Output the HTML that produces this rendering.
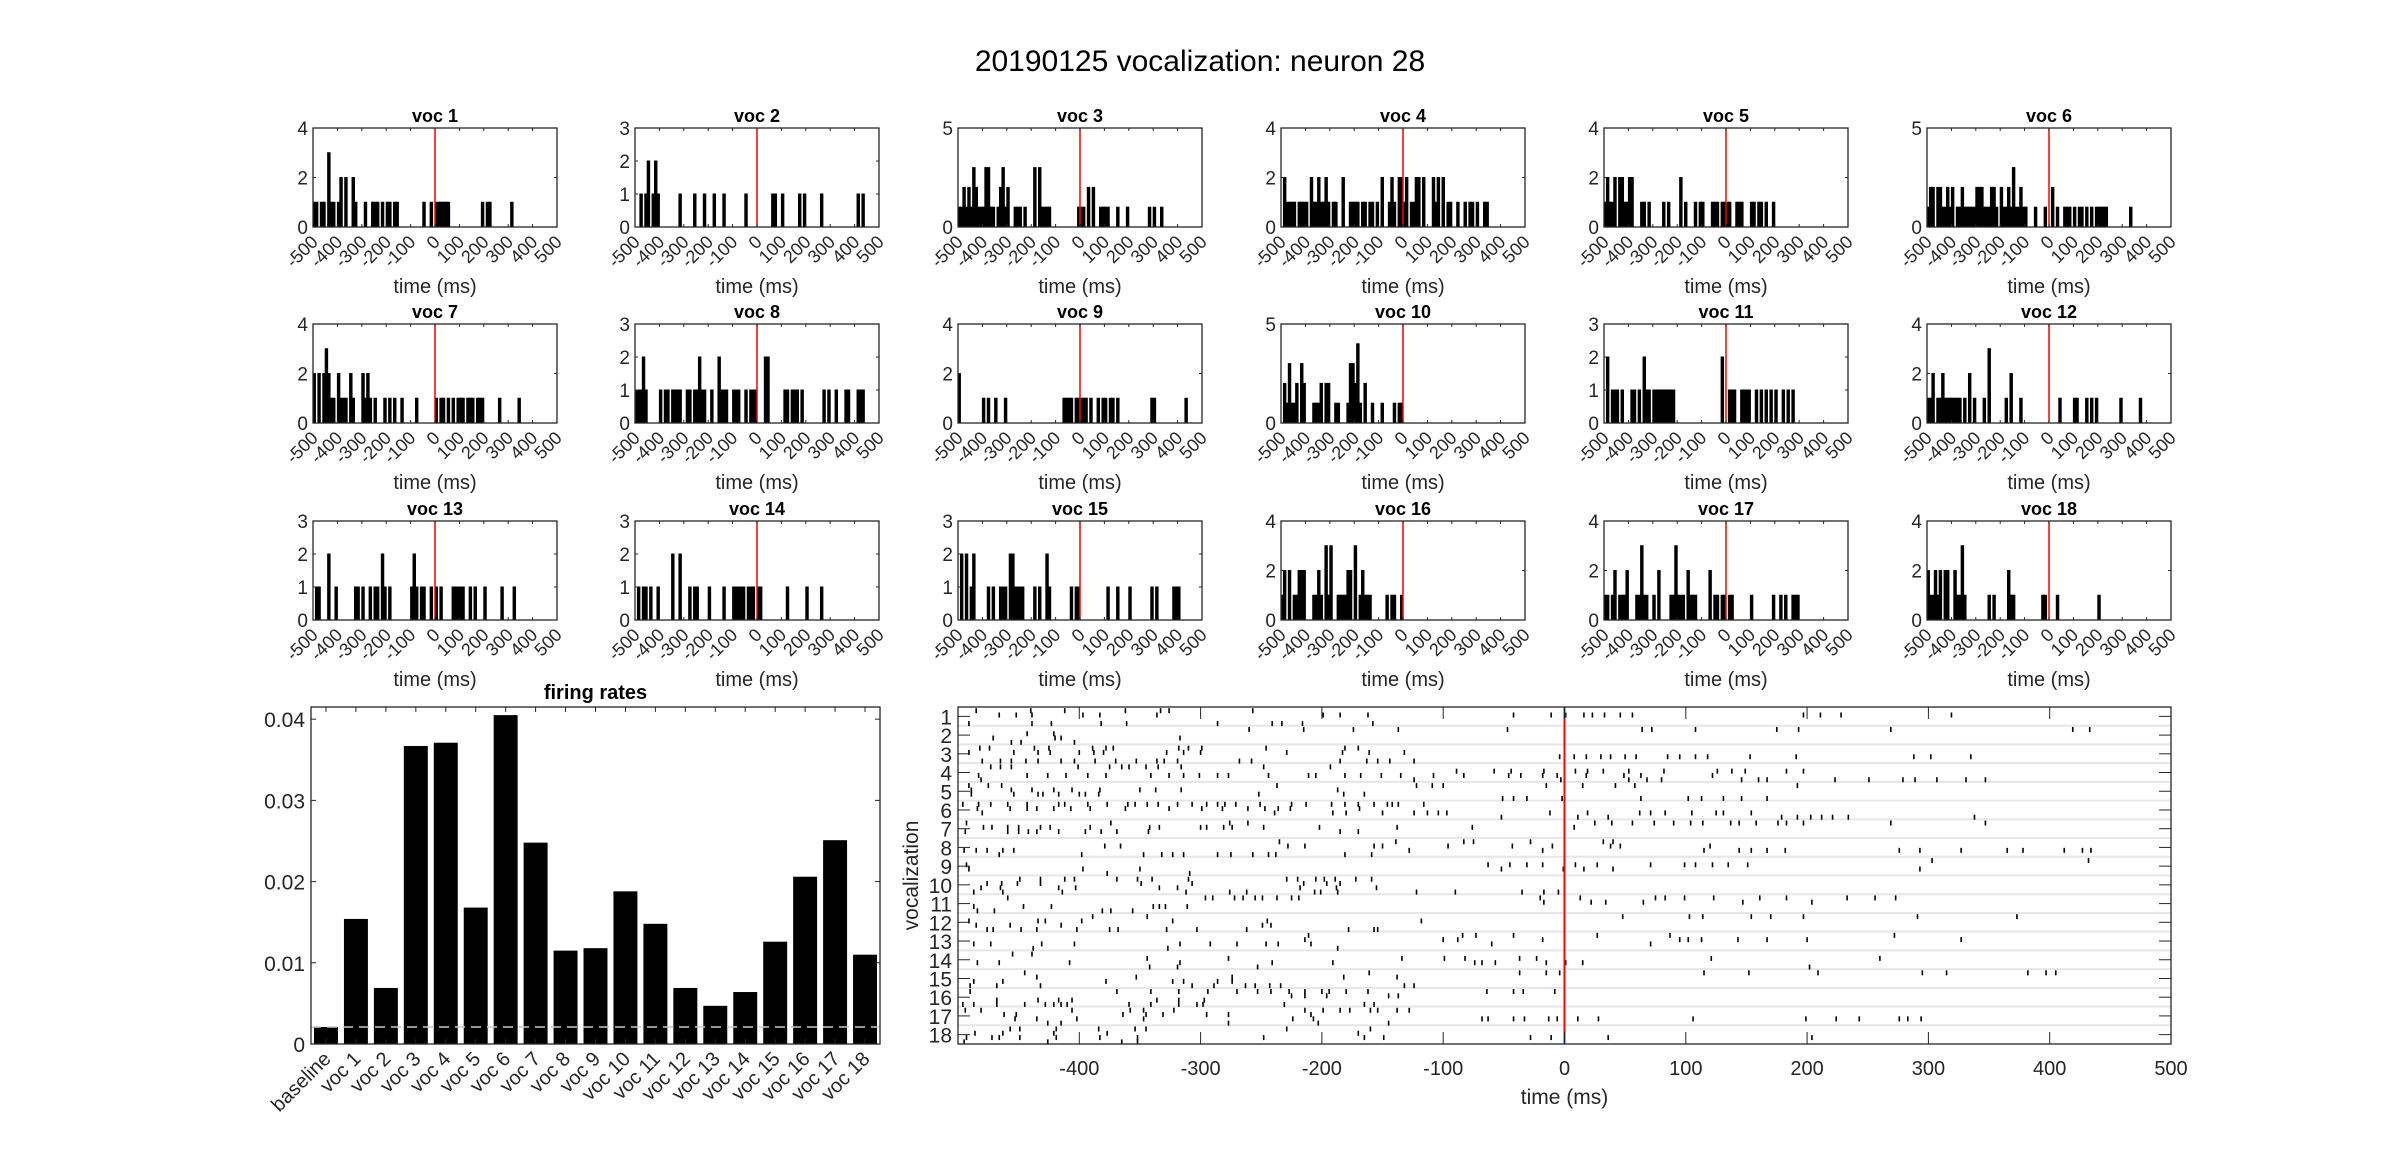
<!DOCTYPE html>
<html><head><meta charset="utf-8"><style>
html,body{margin:0;padding:0;background:#fff;}
svg{display:block;font-family:"Liberation Sans",Arial,sans-serif;}
</style></head><body>
<svg id="fig" width="2400" height="1170" viewBox="0 0 2400 1170" xmlns="http://www.w3.org/2000/svg">
<rect width="2400" height="1170" fill="#fff"/>
<text x="1200" y="71" font-size="30" text-anchor="middle" fill="#000">20190125 vocalization: neuron 28</text>
<g id="panels"></g>
</svg>
<script>
// firing-rate data
const rateCategories = ["baseline","voc 1","voc 2","voc 3","voc 4","voc 5","voc 6","voc 7","voc 8","voc 9","voc 10","voc 11","voc 12","voc 13","voc 14","voc 15","voc 16","voc 17","voc 18"];
const rateValues = [0.0021,0.0154,0.0069,0.0367,0.0371,0.0168,0.0405,0.0248,0.0115,0.0118,0.0188,0.0148,0.0069,0.0047,0.0064,0.0126,0.0206,0.0251,0.0110];
const rateTicks = [0,0.01,0.02,0.03,0.04];
const rateTickLabels = ["0","0.01","0.02","0.03","0.04"];
const baselineRate = 0.0021;
// histogram y limits per vocalization
const histYMax = [4,3,5,4,4,5,4,3,4,5,3,4,3,3,3,4,4,4];
const timeTicks = [-500,-400,-300,-200,-100,0,100,200,300,400,500];
const rasterTicks = [-400,-300,-200,-100,0,100,200,300,400,500];
// raster spikes: per vocalization, per trial (sub-row), times in ms
const rasterSpikes = [
 [[-485,-440,-412,-362,-333,-326,-257],[-466,-452,-439,-397,-383,-336,-199,-185,-162,-42,-11,1,16,23,33,46,56,197,211,228,319],[],[-491,-439,-423,-382,-361,-286,-241,-233,-216,-158]],
 [[-260,-215,-174,-137,-47,64,72,108,175,193,269,419,433],[-443,-421],[-471,-420,-415,-317],[-456,-448,-404]],
 [[-482,-474,-437,-425,-389,-378,-372,-318,-310,-299,-246,-181,-170],[-491,-454,-434,-424,-400,-388,-380,-328,-314,-300,-229,-183,-161,-132],[-4,8,18,30,38,50,59,85,95,108,118,153,191,288,302,335],[-480,-465,-456,-444,-434,-415,-404,-387,-370,-353,-336,-330,-319,-268,-258,-185,-163,-154,-144,-124]],
 [[-473,-465,-456,-401,-375,-365,-359,-345,-335,-316,-248,-193],[-89,-58,-44,-17,9,19,32,53,82,126,138,149,183,197],[-483,-443,-426,-411,-393,-378,-341,-326,-314,-301,-286,-277,-244,-211,-205,-181,-168,-151,-135,-108,-83,-46,-36,-18,-6,18,49,63,122],[-481,-124,-3,53,68,80,146,160,167,223,251,279,289,307,331,347]],
 [[-491,-475,-464,-237,-122,-109,-100,-15,0,15,42,58,192],[-489,-456,-439,-421,-406,-383,-350,-337,-316,-187],[-489,-454,-434,-430,-417,-400,-395,-384,-252,-182,-165],[-51,-42,-31,-2,63,102,113,131,146,167]],
 [[-496,-483,-473,-459,-443,-417,-412,-393,-377,-360,-354,-344,-335,-319,-307,-295,-286,-280,-271,-251,-225,-213,-192,-181,-170,-157,-146,-142,-137,-116],[-484,-457,-443,-435,-421,-407,-391,-362,-326,-299,-282,-261,-247,-236,-226,-169],[-480,-239,-191,-180,-150,-124,-113,-104,-97,-12,19,62,71,83,105,125,131,154],[-52,11,36,179,192,203,212,221,234,338]],
 [[-493,-374,-276,-261,25,39,56,74,90,104,114,137,144,158,176,183,197,269,347],[-479,-472,-459,-450,-432,-424,-391,-342,-334,-300,-295,-281,-274,-248,-202,-138,-76,8],[-494,-459,-450,-442,-435,-417,-395,-382,-369,-343,-185,-170],[]],
 [[-235,-139,-83,-75,-28,32,40],[-379,-366,-228,-214,-157,-150,-96,-43,-10,38,46,120],[-495,-485,-476,-463,-454,-128,-18,115,144,154,167,182,276,293,327,365,378,412,427,434],[-466,-398,-347,-332,-323,-314,-286,-275,-257,-244,-238,-181,-159]],
 [[303,432],[-493,-63,-45,-31,-18,9,27,71,99,108,122,135,151],[-491,-397,-350,-52,-1,16,40,293],[-377,-309]],
 [[-449,-432,-412,-404,-369,-352,-340,-310,-229,-220,-205,-198,-189,-172,-159],[-476,-464,-451,-432,-349,-307,-215,-196,-185],[-481,-465,-417,-403,-334,-319,-218,-188,-155],[-487,-463,-414,-312,-276,-262,-206,-201,-187,-122,-90,-35,-17,-5]],
 [[-459,-296,-290,-272,-265,-255,-249,-237,-225,-219,-20,13,75,83,99,123,161,183,233,256,273],[-17,22,34,65,147,204],[-487,-446,-423,-339,-334,-329,-311],[-484,-470,-381,-374,-356]],
 [[-389,-344,48,103,114,154,170,197,291,373],[-491,-434,-428,-398,-323,-245,-118],[-485,-457,-415,-249,-242],[-476,-471,-448,-435,-402,-375,-368,-328,-303,-262,-178,-157,-154]],
 [[-211,-84,-73,-42,0,27,87,272],[-214,-100,-88,-18,95,102,113,143,167,200,327],[-487,-473,-431,-404,-317,-292,-270,-246,-236,-209,-60,71],[-438,-327,-187]],
 [[-455,-439],[-344,-277,-134,-99,-82,-37,-23,121,260],[-484,-466,-408,-317,-241,-191,-74,-68,-57,-15,1,15],[-342,-319,-253,202]],
 [[-445,-161,-37,-15,-4,115,152,209,295,315,382,397,405],[-435,-353,-274,-182,-138],[-487,-463,-378,-323,-314,-286,-274],[-490,-468,-432,-307,-289,-263,-255,-243,-234,-132,-124]],
 [[-490,-369,-341,-318,-294,-270,-253,-242,-227,-214,-200,-194,-180,-162,-64,-42,-34,-8],[-225,-214,-196,-145,-137],[-468,-434,-417,-406,-336,-318,-297],[-496,-487,-468,-445,-428,-421,-415,-410,-359,-341,-318,-303,-298,-231,-165,-157]],
 [[-494,-481,-406,-358,-347,-322,-214,-199,-185,-177,-160,-154,-138,-128],[-462,-452,-364,-345,-331,-295,-277,-209],[-453,-435,-402,-347,-224,-207,-68,-63,-42,-33,-13,-6,11,28,106,199,224,243,276,283,294],[-426,-415,-277,-203,-145]],
 [[-457,-449,-419,-384,-354,-345,-229,-160],[-486,-463,-421,-377,-170],[-493,-472,-466,-449,-419,-383,-352,-248,-165,-149,-28,-11,36,204],[-495,-426,-365,-352]]
];

const NS = "http://www.w3.org/2000/svg";
const root = document.getElementById('panels');
const AX = "#262626";
function el(tag, attrs, parent) {
  const e = document.createElementNS(NS, tag);
  for (const k in attrs) e.setAttribute(k, attrs[k]);
  (parent || root).appendChild(e);
  return e;
}
function txt(x, y, s, size, anchor, parent, extra) {
  const t = el('text', Object.assign({x: x, y: y, 'font-size': size, 'text-anchor': anchor, fill: AX}, extra || {}), parent);
  t.textContent = s;
  return t;
}

// ---------- small histograms ----------
const colX = [313, 635, 958, 1281, 1604, 1927];
const rowY = [128, 324, 521];
const PW = 244, PH = 99, BIN = 10;
for (let v = 0; v < 18; v++) {
  const g = el('g', {});
  
  
  const x0 = colX[v % 6], y0 = rowY[Math.floor(v / 6)];
  const ymax = histYMax[v];
  const sx = t => x0 + (t + 500) / 1000 * PW;
  const sy = c => y0 + PH - Math.min(c, ymax) / ymax * PH;
  el('rect', {x: x0, y: y0, width: PW, height: PH, fill: '#fff'}, g);
  const counts = new Array(100).fill(0);
  rasterSpikes[v].forEach(tr => tr.forEach(t => { const b = Math.floor((t + 500) / BIN); if (b >= 0 && b < 100) counts[b]++; }));
  counts.forEach((c, b) => {
    if (c > 0) {
      const r = el('rect', {x: sx(-500 + b * BIN), y: sy(c), width: sx(BIN) - sx(0), height: sy(0) - sy(c), fill: '#000', stroke: '#000', 'stroke-width': 1}, g);
      
      
    }
  });
  el('line', {x1: sx(0), x2: sx(0), y1: y0, y2: y0 + PH, stroke: '#ff0000', 'stroke-width': 1.5}, g);
  el('rect', {x: x0, y: y0, width: PW, height: PH, fill: 'none', stroke: AX, 'stroke-width': 1.3}, g);
  timeTicks.forEach(t => {
    el('line', {x1: sx(t), x2: sx(t), y1: y0 + PH, y2: y0 + PH - 3, stroke: AX}, g);
    el('line', {x1: sx(t), x2: sx(t), y1: y0, y2: y0 + 3, stroke: AX}, g);
    const lb = txt(0, 0, String(t), 18, 'end', g, {transform: 'translate(' + (sx(t) + 6) + ',' + (y0 + PH + 16) + ') rotate(-45)'});
    
    
  });
  const yt = ymax === 5 ? [0, 5] : (ymax === 4 ? [0, 2, 4] : [0, 1, 2, 3]);
  yt.forEach(c => {
    el('line', {x1: x0, x2: x0 + 3, y1: sy(c), y2: sy(c), stroke: AX}, g);
    el('line', {x1: x0 + PW, x2: x0 + PW - 3, y1: sy(c), y2: sy(c), stroke: AX}, g);
    txt(x0 - 5, sy(c) + 7, String(c), 19, 'end', g);
  });
  const tt = txt(x0 + PW / 2, y0 - 6, 'voc ' + (v + 1), 18, 'middle', g, {'font-weight': 'bold', fill: '#000'});
  
  
  const xl = txt(x0 + PW / 2, y0 + PH + 66, 'time (ms)', 20, 'middle', g);
  
  
}

// ---------- firing rates bar chart ----------
{
  const g = el('g', {});
  
  
  const L = 311, R = 880, T = 707, B = 1044, YMAX = 0.0415;
  const n = rateCategories.length;
  const sx = i => L + (i + 0.5) / n * (R - L);
  const sy = v => B - v / YMAX * (B - T);
  const bw = 0.8 * (R - L) / n;
  rateValues.forEach((v, i) => {
    const r = el('rect', {x: sx(i) - bw / 2, y: sy(v), width: bw, height: B - sy(v), fill: '#000'}, g);
    
    
  });
  const dl = el('line', {x1: L, x2: R, y1: sy(baselineRate), y2: sy(baselineRate), stroke: '#c8c8c8', 'stroke-width': 1.5, 'stroke-dasharray': '10,6'}, g);
  
  
  el('rect', {x: L, y: T, width: R - L, height: B - T, fill: 'none', stroke: AX, 'stroke-width': 1.3}, g);
  rateCategories.forEach((c, i) => {
    el('line', {x1: sx(i), x2: sx(i), y1: B, y2: B - 5, stroke: AX}, g);
    el('line', {x1: sx(i), x2: sx(i), y1: T, y2: T + 5, stroke: AX}, g);
    const lb = txt(0, 0, c, 20, 'end', g, {transform: 'translate(' + (sx(i) + 6) + ',' + (B + 16) + ') rotate(-45)'});
    
    
  });
  rateTicks.forEach((v, i) => {
    el('line', {x1: L, x2: L + 5, y1: sy(v), y2: sy(v), stroke: AX}, g);
    el('line', {x1: R, x2: R - 5, y1: sy(v), y2: sy(v), stroke: AX}, g);
    txt(L - 6, sy(v) + 8, rateTickLabels[i], 21, 'end', g);
  });
  const t = txt((L + R) / 2, T - 8, 'firing rates', 20, 'middle', g, {'font-weight': 'bold', fill: '#000'});
  
  
}

// ---------- raster ----------
{
  const g = el('g', {});
  
  
  const L = 958, R = 2171, T = 707, B = 1044;
  const sx = t => L + (t + 500) / 1000 * (R - L);
  const rowH = (B - T) / 18;
  const sy = r => T + (r - 0.5) * rowH;
  for (let r = 1; r < 18; r++) {
    el('line', {x1: L, x2: R, y1: T + r * rowH, y2: T + r * rowH, stroke: '#e6e6e6', 'stroke-width': 2}, g);
  }
  rasterSpikes.forEach((trials, v) => {
    const top = T + v * rowH;
    trials.forEach((times, k) => {
      times.forEach(t => {
        const y = top + 1.2 + k * 4.3;
        const s = el('line', {x1: sx(t), x2: sx(t), y1: y, y2: y + 5, stroke: '#000', 'stroke-width': 1.6}, g);
        
        
      });
    });
  });
  el('line', {x1: sx(0), x2: sx(0), y1: T, y2: B, stroke: '#ff0000', 'stroke-width': 2}, g);
  el('rect', {x: L, y: T, width: R - L, height: B - T, fill: 'none', stroke: AX, 'stroke-width': 1.3}, g);
  rasterTicks.forEach(t => {
    el('line', {x1: sx(t), x2: sx(t), y1: B, y2: B - 12, stroke: AX}, g);
    el('line', {x1: sx(t), x2: sx(t), y1: T, y2: T + 12, stroke: AX}, g);
    const lb = txt(sx(t), B + 31, String(t), 20, 'middle', g);
    
    
  });
  for (let r = 1; r <= 18; r++) {
    el('line', {x1: L, x2: L + 12, y1: sy(r), y2: sy(r), stroke: AX}, g);
    el('line', {x1: R, x2: R - 12, y1: sy(r), y2: sy(r), stroke: AX}, g);
    txt(L - 6, sy(r) + 8, String(r), 21, 'end', g);
  }
  const xl = txt((L + R) / 2, B + 60, 'time (ms)', 21, 'middle', g);
  
  
  const yl = txt(0, 0, 'vocalization', 21, 'middle', g, {transform: 'translate(918,' + ((T + B) / 2) + ') rotate(-90)'});
  
  
}
</script>
</body></html>
